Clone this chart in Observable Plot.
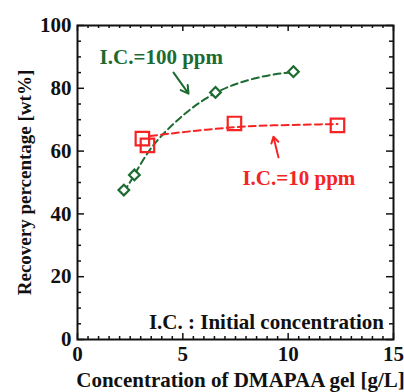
<!DOCTYPE html>
<html>
<head>
<meta charset="utf-8">
<script src="https://cdn.jsdelivr.net/npm/d3@7"></script>
<script src="https://cdn.jsdelivr.net/npm/@observablehq/plot@0.6"></script>
<style>
  html, body { margin: 0; padding: 0; background: #fff; }
  #chart svg text { font-family: 'Liberation Serif', 'Times New Roman', serif; font-weight: bold; }
</style>
</head>
<body>
<div id="chart"></div>
<script>
// ---- data ----
const ic100X = [2.2, 2.7, 6.55, 10.25];
const ic100Y = [47.6, 52.4, 78.7, 85.3];
const ic10X = [3.08, 3.32, 7.45, 12.34];
const ic10Y = [64.0, 61.8, 68.8, 68.2];

// dashed fit curves
const fit100X = [2.2, 2.75, 3.5, 4.5, 5.5, 6.55, 7.5, 8.5, 9.5, 10.25];
const fit100Y = [47.0, 53.0, 61.0, 68.3, 74.0, 78.5, 81.3, 83.3, 84.6, 85.2];
const fit10X = [3.45, 5.36, 7.45, 9.3, 11.5, 12.34];
const fit10Y = [64.8, 66.3, 67.6, 68.2, 68.5, 68.6];

// annotation labels and arrows
const labelText = ["I.C.=100 ppm", "I.C.=10 ppm"];
const labelX = [1.05, 7.83];
const labelY = [89.8, 51.3];
const arrowX1 = [4.56, 9.54];
const arrowY1 = [85.0, 58.0];
const arrowX2 = [5.27, 9.3];
const arrowY2 = [78.3, 64.6];
const noteText = ["I.C. : Initial concentration"];
const noteX = [14.55];
const noteY = [5.4];

// axes
const xMajorTicks = [0, 5, 10, 15];
const xMinorTicks = [0.5, 1, 1.5, 2, 2.5, 3, 3.5, 4, 4.5, 5.5, 6, 6.5, 7, 7.5, 8, 8.5, 9, 9.5,
                     10.5, 11, 11.5, 12, 12.5, 13, 13.5, 14, 14.5];
const yMajorTicks = [0, 20, 40, 60, 80, 100];
const yMinorTicks = [5, 10, 15, 25, 30, 35, 45, 50, 55, 65, 70, 75, 85, 90, 95];
const xLabel = "Concentration of DMAPAA gel [g/L]";
const yLabel = "Recovery percentage [wt%]";

const green = "#1c6b30";
const red = "#f42424";
const W = 404, H = 392;
const mT = 25, mR = 11, mB = 53, mL = 77;
const plotW = W - mL - mR, plotH = H - mT - mB;
const font = "'Liberation Serif', 'Times New Roman', serif";

const pts100 = ic100X.map((x, i) => ({x, y: ic100Y[i]}));
const pts10 = ic10X.map((x, i) => ({x, y: ic10Y[i]}));
const fit100 = fit100X.map((x, i) => ({x, y: fit100Y[i]}));
const fit10 = fit10X.map((x, i) => ({x, y: fit10Y[i]}));
const labels = labelText.map((t, i) => ({t, x: labelX[i], y: labelY[i], c: i === 0 ? green : red}));
const arrows = arrowX1.map((x1, i) => ({x1, y1: arrowY1[i], x2: arrowX2[i], y2: arrowY2[i], c: i === 0 ? green : red}));
const notes = noteText.map((t, i) => ({t, x: noteX[i], y: noteY[i]}));

const tickStroke = {stroke: "#111", strokeWidth: 1.5};
const txt = {fontFamily: font, fontWeight: "bold"};

const chart = Plot.plot({
  width: W, height: H,
  marginTop: mT, marginRight: mR, marginBottom: mB, marginLeft: mL,
  style: `font-family: ${font}; font-weight: bold; background: #fff; color: #111; overflow: visible;`,
  x: {domain: [0, 15]},
  y: {domain: [0, 100]},
  marks: [
    // inward ticks, all four sides
    Plot.tickX(xMinorTicks, {x: d => d, insetTop: plotH - 3, ...tickStroke}),
    Plot.tickX(xMinorTicks, {x: d => d, insetBottom: plotH - 3, ...tickStroke}),
    Plot.tickX(xMajorTicks, {x: d => d, insetTop: plotH - 6, ...tickStroke}),
    Plot.tickX(xMajorTicks, {x: d => d, insetBottom: plotH - 6, ...tickStroke}),
    Plot.tickY(yMinorTicks, {y: d => d, insetRight: plotW - 4, ...tickStroke}),
    Plot.tickY(yMinorTicks, {y: d => d, insetLeft: plotW - 4, ...tickStroke}),
    Plot.tickY(yMajorTicks, {y: d => d, insetRight: plotW - 7, ...tickStroke}),
    Plot.tickY(yMajorTicks, {y: d => d, insetLeft: plotW - 7, ...tickStroke}),
    Plot.axisX(xMajorTicks, {tickSize: 0, tickPadding: 7, fontSize: 21, label: null, ...txt}),
    Plot.axisY(yMajorTicks, {tickSize: 0, tickPadding: 6, fontSize: 21, label: null, ...txt}),
    Plot.frame({stroke: "#111", strokeWidth: 2}),
    // axis titles
    Plot.text([xLabel], {text: d => d, frameAnchor: "bottom", textAnchor: "middle", dy: 47, dx: 5, fontSize: 21, fill: "#111", ...txt}),
    Plot.text([yLabel], {text: d => d, frameAnchor: "left", textAnchor: "middle", lineAnchor: "middle", rotate: -90, dx: -53, fontSize: 19, fill: "#111", ...txt}),
    // fit curves
    Plot.line(fit100, {x: "x", y: "y", stroke: green, strokeWidth: 2, strokeDasharray: "7,4", curve: "natural"}),
    Plot.line(fit10, {x: "x", y: "y", stroke: red, strokeWidth: 2, strokeDasharray: "7,4", curve: "natural"}),
    // data points
    Plot.dot(pts100, {x: "x", y: "y", symbol: "diamond2", r: 4.8, stroke: green, strokeWidth: 2.2, fill: "#fff"}),
    Plot.dot(pts10, {x: "x", y: "y", symbol: "square", r: 7.6, stroke: red, strokeWidth: 2.2, fill: "none"}),
    // annotations
    Plot.arrow(arrows, {x1: "x1", y1: "y1", x2: "x2", y2: "y2", stroke: "c", strokeWidth: 2, headLength: 8}),
    Plot.text(labels, {x: "x", y: "y", text: "t", fill: "c", textAnchor: "start", fontSize: 21, ...txt}),
    Plot.text(notes, {x: "x", y: "y", text: "t", fill: "#111", textAnchor: "end", fontSize: 21, ...txt})
  ]
});
document.getElementById("chart").appendChild(chart);
</script>
</body>
</html>
